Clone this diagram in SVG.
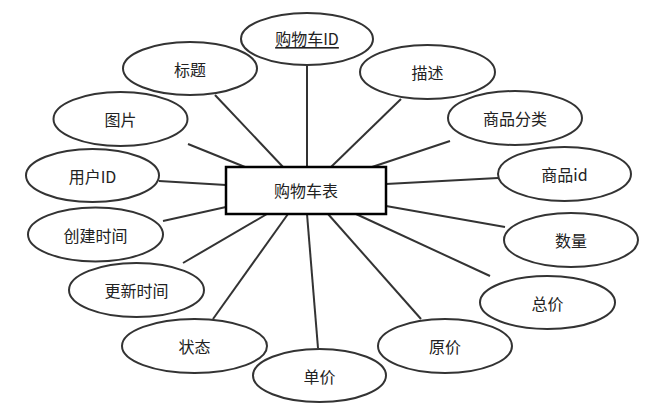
<svg xmlns="http://www.w3.org/2000/svg" width="654" height="419" viewBox="0 0 654 419">
<style>
.e{fill:#fff;stroke:#333;stroke-width:2}
.c line{stroke:#333;stroke-width:2}
text{font-family:"Noto Sans CJK SC","Microsoft YaHei",sans-serif;font-size:16px;fill:#222;text-anchor:middle;dominant-baseline:central}
</style>
<rect width="654" height="419" fill="#fff"/>
<g id="connectors" class="c">
<line x1="307" y1="65" x2="307" y2="167"/>
<line x1="215" y1="95" x2="283" y2="167"/>
<line x1="188" y1="144" x2="245" y2="167"/>
<line x1="159" y1="181" x2="226" y2="185"/>
<line x1="163" y1="221" x2="226" y2="207"/>
<line x1="183" y1="263" x2="267" y2="214"/>
<line x1="213" y1="319" x2="288" y2="214"/>
<line x1="318" y1="348" x2="307" y2="214"/>
<line x1="421" y1="319" x2="328" y2="214"/>
<line x1="490" y1="276" x2="356" y2="214"/>
<line x1="505" y1="227" x2="386" y2="206"/>
<line x1="498" y1="178" x2="386" y2="184"/>
<line x1="450" y1="141" x2="372" y2="167"/>
<line x1="401" y1="99" x2="331" y2="167"/>
</g>
<g id="entity"><rect x="226" y="167" width="160" height="47" fill="#fff" stroke="#000" stroke-width="2.5"/><text x="306" y="190">购物车表</text></g>
<g id="a-id"><ellipse class="e" cx="307" cy="39" rx="66" ry="26"/><text x="307" y="38" text-decoration="underline">购物车ID</text></g>
<g id="a-title"><ellipse class="e" cx="190" cy="68.5" rx="67" ry="26.5"/><text x="190" y="68.5">标题</text></g>
<g id="a-img"><ellipse class="e" cx="120.5" cy="119" rx="67" ry="27"/><text x="120.5" y="119">图片</text></g>
<g id="a-uid"><ellipse class="e" cx="92.5" cy="175.5" rx="66.5" ry="26.5"/><text x="92.5" y="175.5">用户ID</text></g>
<g id="a-ctime"><ellipse class="e" cx="95.5" cy="234.5" rx="67.5" ry="27"/><text x="95.5" y="234.5">创建时间</text></g>
<g id="a-utime"><ellipse class="e" cx="136.5" cy="290" rx="67.5" ry="27"/><text x="136.5" y="290">更新时间</text></g>
<g id="a-status"><ellipse class="e" cx="194.5" cy="346" rx="72.5" ry="27"/><text x="194.5" y="346">状态</text></g>
<g id="a-price"><ellipse class="e" cx="319.5" cy="375.5" rx="66.5" ry="26.5"/><text x="319.5" y="375.5">单价</text></g>
<g id="a-oprice"><ellipse class="e" cx="445" cy="346" rx="67" ry="27"/><text x="445" y="346">原价</text></g>
<g id="a-total"><ellipse class="e" cx="547.5" cy="302.5" rx="67.5" ry="26.5"/><text x="547.5" y="302.5">总价</text></g>
<g id="a-qty"><ellipse class="e" cx="571" cy="240" rx="67" ry="27"/><text x="571" y="240">数量</text></g>
<g id="a-pid"><ellipse class="e" cx="564.5" cy="174" rx="66.5" ry="27"/><text x="564.5" y="174">商品id</text></g>
<g id="a-cat"><ellipse class="e" cx="515" cy="118" rx="67" ry="27"/><text x="515" y="118">商品分类</text></g>
<g id="a-desc"><ellipse class="e" cx="427.5" cy="72" rx="67.5" ry="27"/><text x="427.5" y="72">描述</text></g>
</svg>
